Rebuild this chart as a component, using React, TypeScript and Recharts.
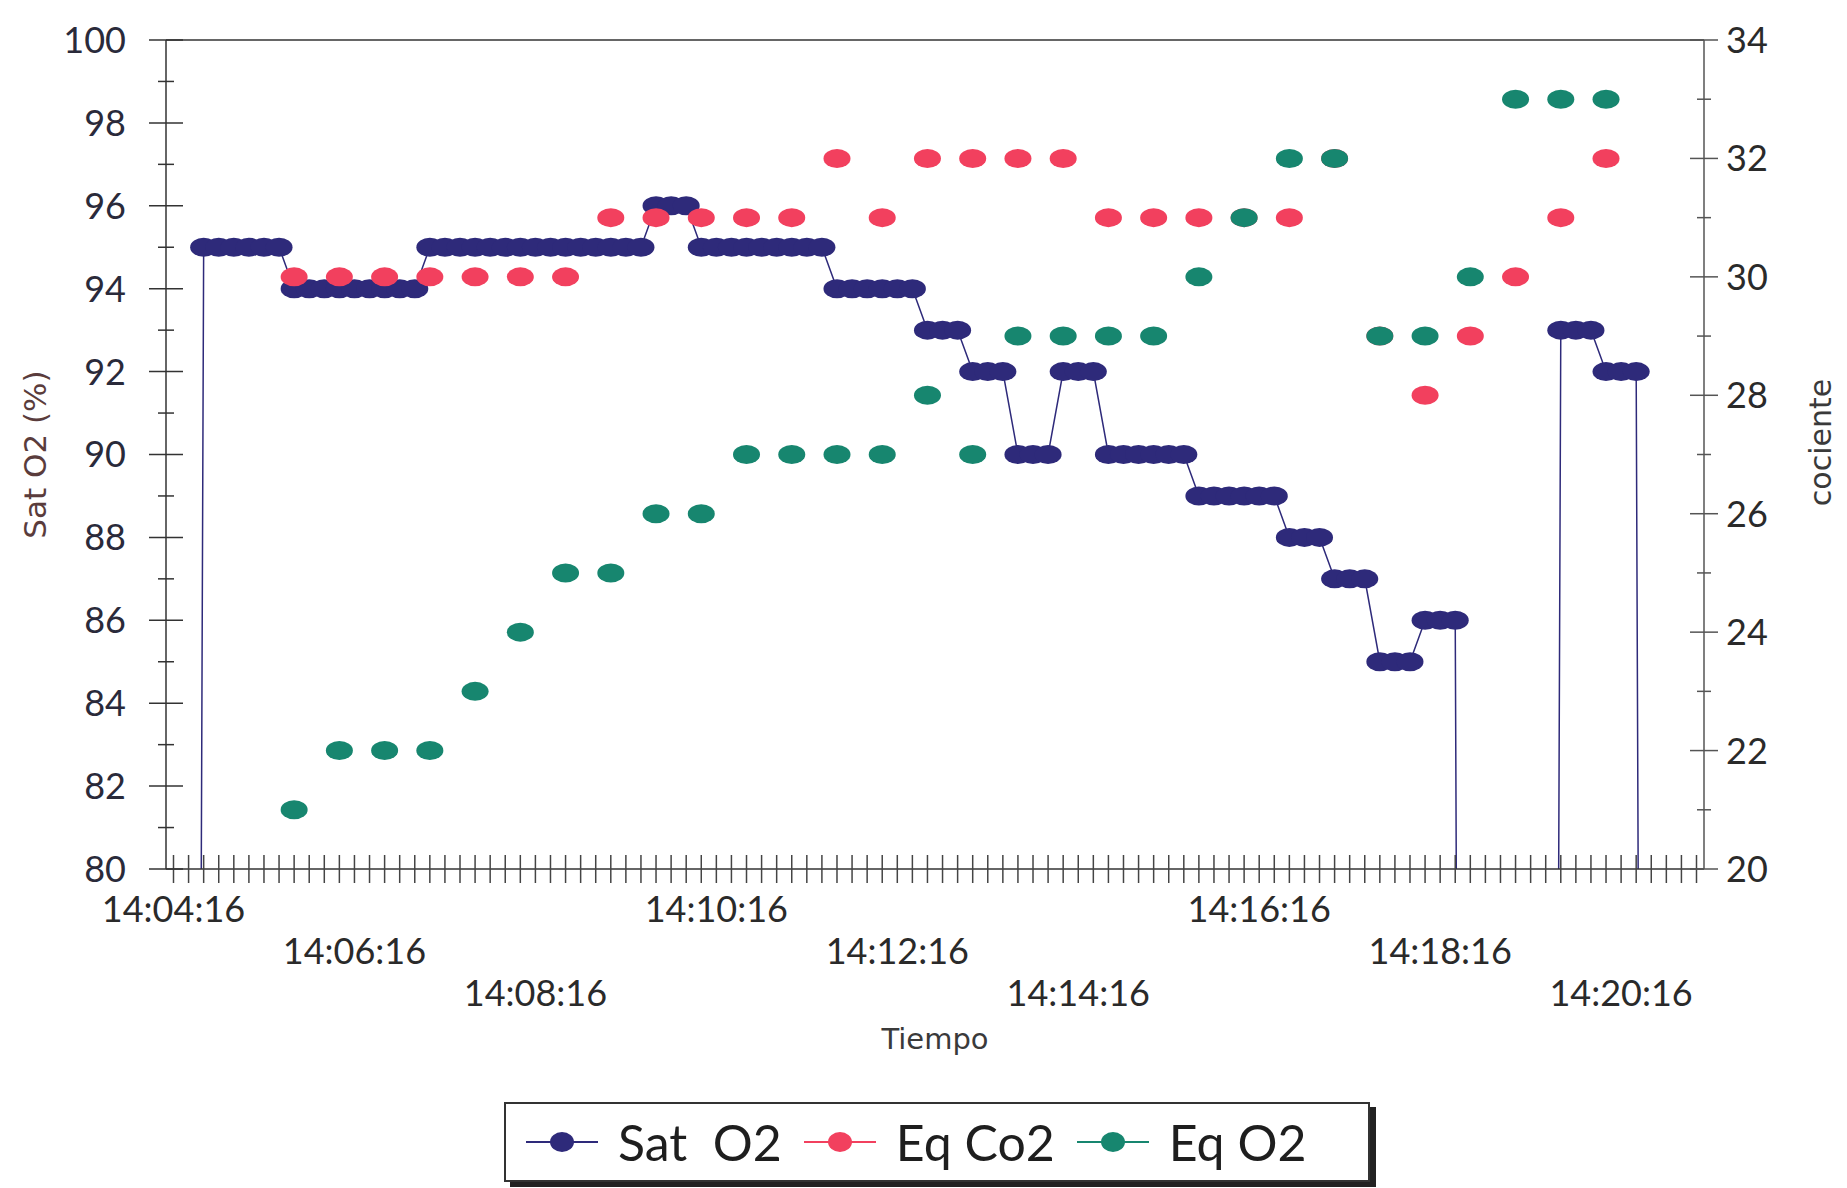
import { LineChart, Line, XAxis, YAxis, ReferenceLine } from "recharts";

// one reading every 10 s starting 14:04:16
const START_SECONDS = 14 * 3600 + 4 * 60 + 16;
const STEP_SECONDS = 10;
const SAMPLE_COUNT = 102;

const pad = (n: number) => String(n).padStart(2, "0");
const clock = (s: number) =>
  `${pad(Math.floor(s / 3600))}:${pad(Math.floor((s % 3600) / 60))}:${pad(s % 60)}`;

const TIMES: string[] = Array.from({ length: SAMPLE_COUNT }, (_, i) =>
  clock(START_SECONDS + i * STEP_SECONDS)
);

// Sat O2 (%) per 10 s sample, 0 = no reading
const SAT_O2 = [
  0, 0, 95, 95, 95, 95, 95, 95, 94, 94,
  94, 94, 94, 94, 94, 94, 94, 95, 95, 95,
  95, 95, 95, 95, 95, 95, 95, 95, 95, 95,
  95, 95, 96, 96, 96, 95, 95, 95, 95, 95,
  95, 95, 95, 95, 94, 94, 94, 94, 94, 94,
  93, 93, 93, 92, 92, 92, 90, 90, 90, 92,
  92, 92, 90, 90, 90, 90, 90, 90, 89, 89,
  89, 89, 89, 89, 88, 88, 88, 87, 87, 87,
  85, 85, 85, 86, 86, 86, 0, 0, 0, 0,
  0, 0, 93, 93, 93, 92, 92, 92, 0, 0,
  0, 0,
];

// ventilatory equivalents, one reading every 30 s
const EQ_TIMES = [
  "14:05:36", "14:06:06", "14:06:36", "14:07:06", "14:07:36", "14:08:06",
  "14:08:36", "14:09:06", "14:09:36", "14:10:06", "14:10:36", "14:11:06",
  "14:11:36", "14:12:06", "14:12:36", "14:13:06", "14:13:36", "14:14:06",
  "14:14:36", "14:15:06", "14:15:36", "14:16:06", "14:16:36", "14:17:06",
  "14:17:36", "14:18:06", "14:18:36", "14:19:06", "14:19:36", "14:20:06",
];
const EQ_CO2 = [
  30, 30, 30, 30, 30, 30, 30, 31, 31, 31, 31, 31, 32, 31, 32,
  32, 32, 32, 31, 31, 31, 31, 31, 32, 29, 28, 29, 30, 31, 32,
];
const EQ_O2 = [
  21, 22, 22, 22, 23, 24, 25, 25, 26, 26, 27, 27, 27, 27, 28,
  27, 29, 29, 29, 29, 30, 31, 32, 32, 29, 29, 30, 33, 33, 33,
];

const LEFT_TICKS = Array.from({ length: 21 }, (_, i) => 80 + i);
const RIGHT_TICKS = Array.from({ length: 15 }, (_, i) => 20 + i);
const LABEL_EVERY = 12;

const SAT_COLOR = "#2e2a7a";
const CO2_COLOR = "#f2405e";
const O2_COLOR = "#17866f";
const AXIS_COLOR = "#333";
const TICK_FONT = "Lato, 'DejaVu Sans', sans-serif";
const TITLE_FONT = "'DejaVu Sans', sans-serif";

const data = TIMES.map((time, i) => {
  const k = EQ_TIMES.indexOf(time);
  return {
    time,
    sat: SAT_O2[i],
    eqCo2: k >= 0 ? EQ_CO2[k] : null,
    eqO2: k >= 0 ? EQ_O2[k] : null,
  };
});

const makeDot = (fill: string) => (props: any) => {
  const { cx, cy, value, index } = props;
  if (cx == null || cy == null || value == null) return <g key={`d-${index}`} />;
  return <ellipse key={`d-${index}`} cx={cx} cy={cy} rx={13.5} ry={9.5} fill={fill} />;
};

const LeftTick = (props: any) => {
  const { x, y, payload } = props;
  const major = payload.value % 2 === 0;
  const half = major ? 17 : 8;
  return (
    <g>
      <line x1={x - half} x2={x + half} y1={y} y2={y} stroke={AXIS_COLOR} strokeWidth={1.5} />
      {major && (
        <text x={x - 40} y={y} dy="0.36em" textAnchor="end" fontSize={36} fontFamily={TICK_FONT} fill="#2a2a3a">
          {payload.value}
        </text>
      )}
    </g>
  );
};

const RightTick = (props: any) => {
  const { x, y, payload } = props;
  const major = payload.value % 2 === 0;
  const half = major ? 14 : 7;
  return (
    <g>
      <line x1={x - half} x2={x + half} y1={y} y2={y} stroke="#555" strokeWidth={1.5} />
      {major && (
        <text x={x + 22} y={y} dy="0.36em" textAnchor="start" fontSize={36} fontFamily={TICK_FONT} fill="#2a2a2a">
          {payload.value}
        </text>
      )}
    </g>
  );
};

const TimeTick = (props: any) => {
  const { x, y, payload, index } = props;
  const labelled = index % LABEL_EVERY === 0;
  const row = Math.floor(index / LABEL_EVERY) % 3;
  return (
    <g>
      <line x1={x} x2={x} y1={y - 14} y2={y + 14} stroke="#444" strokeWidth={1.5} />
      {labelled && (
        <text x={x} y={y + 40 + row * 42} dy="0.36em" textAnchor="middle" fontSize={36} fontFamily={TICK_FONT} fill="#2a2a2a">
          {payload.value}
        </text>
      )}
    </g>
  );
};

const LeftTitle = (props: any) => {
  const { x, y, height } = props.viewBox;
  const cx = x + 35;
  const cy = y + height / 2;
  return (
    <text x={cx} y={cy} dy="0.35em" textAnchor="middle" transform={`rotate(-90 ${cx} ${cy})`} fontSize={31} fontFamily={TITLE_FONT} fill="#5a3c3c">
      Sat O2 (%)
    </text>
  );
};

const RightTitle = (props: any) => {
  const { x, y, height } = props.viewBox;
  const cx = x + 116;
  const cy = y + height / 2 - 12;
  return (
    <text x={cx} y={cy} dy="0.35em" textAnchor="middle" transform={`rotate(-90 ${cx} ${cy})`} fontSize={30} fontFamily={TITLE_FONT} fill="#3a3a3a">
      cociente
    </text>
  );
};

const BottomTitle = (props: any) => {
  const { x, y, width } = props.viewBox;
  return (
    <text x={x + width / 2} y={y + 170} dy="0.35em" textAnchor="middle" fontSize={29} fontFamily={TITLE_FONT} fill="#3a3a3a">
      Tiempo
    </text>
  );
};

const LegendMark = ({ color }: { color: string }) => (
  <svg width={76} height={30} style={{ display: "block" }}>
    <line x1={2} x2={74} y1={15} y2={15} stroke={color} strokeWidth={2} />
    <ellipse cx={38} cy={15} rx={12} ry={10} fill={color} />
  </svg>
);

const LEGEND_ITEMS = [
  { label: "Sat  O2", color: SAT_COLOR },
  { label: "Eq Co2", color: CO2_COLOR },
  { label: "Eq O2", color: O2_COLOR },
];

export default function App() {
  return (
    <div style={{ position: "absolute", left: 0, top: 0, width: 1847, height: 1188, background: "#fff" }}>
      <LineChart
        width={1847}
        height={1188}
        data={data}
        margin={{ top: 40, right: 0, bottom: 119, left: 0 }}
      >
        <XAxis
          dataKey="time"
          interval={0}
          height={200}
          padding={{ left: 7.5, right: 7.5 }}
          tickLine={false}
          tickSize={0}
          tickMargin={0}
          tick={<TimeTick />}
          axisLine={{ stroke: AXIS_COLOR, strokeWidth: 1.5 }}
          label={<BottomTitle />}
        />
        <YAxis
          yAxisId="left"
          orientation="left"
          width={166}
          domain={[80, 100]}
          ticks={LEFT_TICKS}
          interval={0}
          allowDataOverflow
          tickLine={false}
          tickSize={0}
          tickMargin={0}
          tick={<LeftTick />}
          axisLine={{ stroke: AXIS_COLOR, strokeWidth: 1.5 }}
          label={<LeftTitle />}
        />
        <YAxis
          yAxisId="right"
          orientation="right"
          width={143}
          domain={[20, 34]}
          ticks={RIGHT_TICKS}
          interval={0}
          allowDataOverflow
          tickLine={false}
          tickSize={0}
          tickMargin={0}
          tick={<RightTick />}
          axisLine={{ stroke: "#555", strokeWidth: 1.5 }}
          label={<RightTitle />}
        />
        <ReferenceLine yAxisId="left" y={100} stroke={AXIS_COLOR} strokeWidth={1.5} />
        <Line
          yAxisId="left"
          type="linear"
          dataKey="sat"
          name="Sat O2"
          stroke={SAT_COLOR}
          strokeWidth={1.5}
          dot={makeDot(SAT_COLOR)}
          activeDot={false}
          isAnimationActive={false}
        />
        <Line
          yAxisId="right"
          type="linear"
          dataKey="eqCo2"
          name="Eq Co2"
          stroke={CO2_COLOR}
          strokeWidth={1.5}
          connectNulls={false}
          dot={makeDot(CO2_COLOR)}
          activeDot={false}
          isAnimationActive={false}
        />
        <Line
          yAxisId="right"
          type="linear"
          dataKey="eqO2"
          name="Eq O2"
          stroke={O2_COLOR}
          strokeWidth={1.5}
          connectNulls={false}
          dot={makeDot(O2_COLOR)}
          activeDot={false}
          isAnimationActive={false}
        />
      </LineChart>
      <div
        style={{
          position: "absolute",
          left: 504,
          top: 1102,
          width: 866,
          height: 80,
          boxSizing: "border-box",
          border: "2px solid #333",
          boxShadow: "6px 5px 0 #222",
          background: "#fff",
          display: "flex",
          alignItems: "center",
          paddingLeft: 18,
          fontFamily: TICK_FONT,
          fontSize: 50,
          color: "#1e1e1e",
        }}
      >
        {LEGEND_ITEMS.map((item) => (
          <div key={item.label} style={{ display: "flex", alignItems: "center", marginRight: 20 }}>
            <LegendMark color={item.color} />
            <span style={{ whiteSpace: "pre", marginLeft: 18, lineHeight: 1 }}>{item.label}</span>
          </div>
        ))}
      </div>
    </div>
  );
}
